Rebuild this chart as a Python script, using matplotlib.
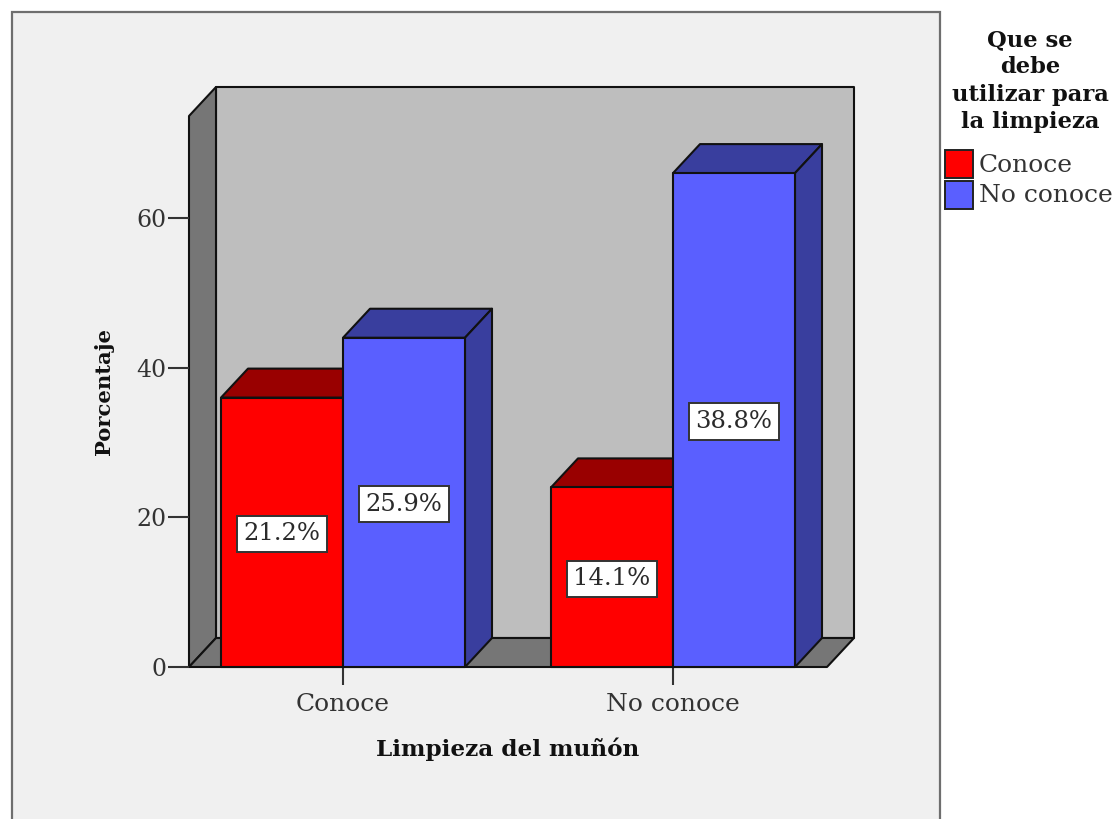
import matplotlib
matplotlib.use("Agg")
import matplotlib.pyplot as plt
from matplotlib.patches import Polygon, Rectangle

# values
categories = ["Conoce", "No conoce"]
series_names = ["Conoce", "No conoce"]
conoce_vals = [36, 24]
no_conoce_vals = [44, 66]
conoce_labels = ["21.2%", "14.1%"]
no_conoce_labels = ["25.9%", "38.8%"]
y_ticks = [0, 20, 40, 60]

W, H = 1116, 819
RED, RED_TOP = "#ff0000", "#990000"
BLUE, BLUE_TOP, BLUE_SIDE = "#5a5fff", "#393e9e", "#393e9e"
WALL, BACK = "#767676", "#bebebe"
SERIF = "DejaVu Serif"

fig = plt.figure(figsize=(W / 100, H / 100), dpi=100, facecolor="white")

# outer grey panel, runs off the bottom of the image
fig.add_artist(Rectangle((12 / W, -0.01), 928 / W, 1 - 12 / H + 0.01, transform=fig.transFigure,
                         fc="#f0f0f0", ec="#6e6e6e", lw=1.6, zorder=-1))

# axes box = front plane of the 3d plot
ax = fig.add_axes([189 / W, 1 - 667 / H, 638 / W, 551 / H])
ax.patch.set_visible(False)
px_x = 330.0  # pixels for one category
px_y = (667 - 218) / 60.0  # pixels for one percent
ax.set_xlim((189 - 343) / px_x, (827 - 343) / px_x)
ax.set_ylim(0, 551 / px_y)
dx, dy = 27 / px_x, 29 / px_y
x0, x1 = ax.get_xlim()
ytop = ax.get_ylim()[1]
bw = 122 / px_x


def poly(pts, fc, z=1):
    ax.add_patch(Polygon(pts, closed=True, fc=fc, ec="#111111", lw=1.5, zorder=z,
                         clip_on=False, joinstyle="round"))


# walls and floor
poly([(x0 + dx, dy), (x1 + dx, dy), (x1 + dx, ytop + dy), (x0 + dx, ytop + dy)], BACK, 1)
poly([(x0, 0), (x0 + dx, dy), (x0 + dx, ytop + dy), (x0, ytop)], WALL, 1.1)
poly([(x0, 0), (x1, 0), (x1 + dx, dy), (x0 + dx, dy)], WALL, 1.1)


def bar3d(x, v, front, top, side, z):
    poly([(x, v), (x + bw, v), (x + bw + dx, v + dy), (x + dx, v + dy)], top, z)
    poly([(x + bw, 0), (x + bw + dx, dy), (x + bw + dx, v + dy), (x + bw, v)], side, z)
    poly([(x, 0), (x + bw, 0), (x + bw, v), (x, v)], front, z + 0.1)


for i in range(len(categories)):
    bar3d(i - bw, conoce_vals[i], RED, RED_TOP, RED_TOP, 2)
    bar3d(i, no_conoce_vals[i], BLUE, BLUE_TOP, BLUE_SIDE, 3)

for i in range(len(categories)):
    for x, v, lab in [(i - bw / 2, conoce_vals[i], conoce_labels[i]),
                      (i + bw / 2, no_conoce_vals[i], no_conoce_labels[i])]:
        ax.annotate(lab, (x, v / 2), xytext=(0, -1.2), textcoords="offset points", ha="center", va="center",
                    family=SERIF, fontsize=17.5, color="#2a2a2a", zorder=6,
                    bbox=dict(boxstyle="square,pad=0.28", fc="white", ec="#333333", lw=1.4))

for s in ax.spines.values():
    s.set_visible(False)
ax.set_xticks(range(len(categories)))
ax.set_xticklabels(categories, family=SERIF, fontsize=18, color="#333333")
ax.set_yticks(y_ticks)
ax.set_yticklabels(y_ticks, family=SERIF, fontsize=17, color="#333333")
ax.tick_params(axis="x", length=13, width=1.5, color="#333333", pad=5.5)
ax.tick_params(axis="y", length=15, width=1.5, color="#333333", pad=1.5)

fig.text(104 / W, 1 - 391 / H, "Porcentaje", rotation=90, ha="center", va="center",
         family=SERIF, fontsize=15.2, fontweight="bold", color="#111111")
fig.text(508 / W, 1 - 749 / H, "Limpieza del muñón", ha="center", va="center",
         family=SERIF, fontsize=16.7, fontweight="bold", color="#111111")

# legend
fig.text(1030 / W, 1 - 81 / H, "Que se\ndebe\nutilizar para\nla limpieza", ha="center", va="center",
         family=SERIF, fontsize=16.3, fontweight="bold", color="#111111", linespacing=1.31)
for name, c, yy in zip(series_names, [RED, BLUE], [164, 195]):
    fig.add_artist(Rectangle((945 / W, 1 - (yy + 14) / H), 28 / W, 28 / H, transform=fig.transFigure,
                             fc=c, ec="#222222", lw=1.4))
    fig.text(979 / W, 1 - (yy + 1) / H, name, ha="left", va="center", family=SERIF, fontsize=18, color="#333333")

fig.savefig("out.png", dpi=100)
